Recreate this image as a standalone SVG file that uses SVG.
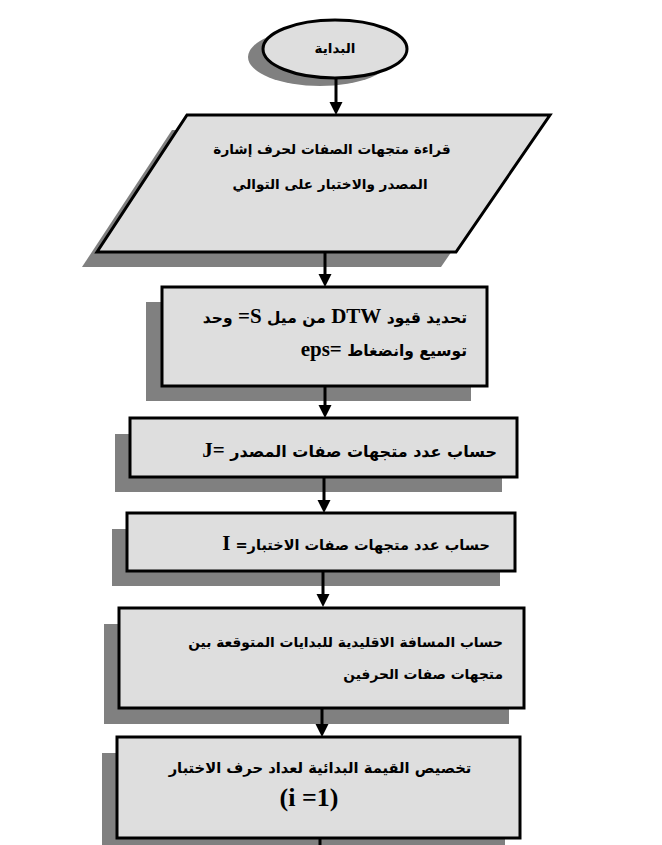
<svg xmlns="http://www.w3.org/2000/svg" width="662" height="845" viewBox="0 0 662 845">
<defs>
<style>
.sh{fill:#808080}
.bx{fill:#dedede;stroke:#000;stroke-width:3}
.t{font-family:"DejaVu Sans",sans-serif;font-weight:bold;font-size:14px;fill:#000}
.l{font-family:"Liberation Serif",serif;font-weight:bold;font-size:21px}
.c{stroke:#000;stroke-width:3;fill:none}
</style>
<marker id="ah" viewBox="0 0 10 10" refX="6.9" refY="5" markerUnits="userSpaceOnUse" markerWidth="13" markerHeight="14" orient="auto">
<path d="M0,0 L10,5 L0,10 z" fill="#000"/>
</marker>
</defs>
<rect width="662" height="845" fill="#fff"/>
<g id="start">
<ellipse class="sh" cx="320" cy="57" rx="72" ry="29"/>
<ellipse class="bx" cx="335" cy="49" rx="72" ry="29"/>
<text class="t" x="335" y="53" text-anchor="middle" direction="rtl" style="font-size:13.5px">البداية</text>
</g>
<g id="read">
<polygon class="sh" points="172,130 535,130 441,267 82,267"/>
<polygon class="bx" points="187,115 550,115 456,252 97,252"/>
<text class="t" x="332" y="154" text-anchor="middle" direction="rtl" style="font-size:13.6px">قراءة متجهات الصفات لحرف إشارة</text>
<text class="t" x="330" y="189" text-anchor="middle" direction="rtl" style="font-size:13.6px">المصدر والاختبار على التوالي</text>
</g>
<g id="dtw">
<rect class="sh" x="146" y="302" width="325" height="99"/>
<rect class="bx" x="162" y="287" width="325" height="99"/>
<text class="t" x="467" y="323" text-anchor="start" direction="rtl" style="font-size:15.5px">تحديد قيود <tspan class="l">DTW</tspan> من ميل <tspan class="l">S=</tspan>  وحد</text>
<text class="t" x="467" y="356" text-anchor="start" direction="rtl" style="font-size:15.5px">توسيع وانضغاط  <tspan class="l">=eps</tspan></text>
</g>
<g id="countJ">
<rect class="sh" x="115" y="434" width="387" height="58"/>
<rect class="bx" x="130" y="418" width="387" height="59"/>
<text class="t" x="497" y="457" text-anchor="start" direction="rtl" style="font-size:16px">حساب عدد متجهات صفات المصدر  <tspan class="l">=J</tspan></text>
</g>
<g id="countI">
<rect class="sh" x="112" y="529" width="388" height="57"/>
<rect class="bx" x="127" y="513" width="388" height="58"/>
<text class="t" x="490" y="550" text-anchor="start" direction="rtl" style="font-size:14.5px">حساب عدد متجهات صفات الاختبار= <tspan class="l">I</tspan></text>
</g>
<g id="dist">
<rect class="sh" x="104" y="624" width="405" height="100"/>
<rect class="bx" x="119" y="608" width="405" height="100"/>
<text class="t" x="503" y="647" text-anchor="start" direction="rtl" style="font-size:13.8px">حساب المسافة الاقليدية للبدايات المتوقعة بين</text>
<text class="t" x="503" y="679" text-anchor="start" direction="rtl" style="font-size:13.8px">متجهات صفات الحرفين</text>
</g>
<g id="init">
<rect class="sh" x="102" y="753" width="403" height="101"/>
<rect class="bx" x="117" y="737" width="403" height="101"/>
<text class="t" x="320" y="773" text-anchor="middle" direction="rtl" style="font-size:14.7px">تخصيص القيمة البدائية لعداد حرف الاختبار</text>
<text class="l" x="309" y="806" text-anchor="middle" style="font-size:26px">(i =1)</text>
</g>
<g id="connectors">
<line class="c" x1="336" y1="79" x2="336" y2="111" marker-end="url(#ah)"/>
<line class="c" x1="325" y1="252" x2="325" y2="283" marker-end="url(#ah)"/>
<line class="c" x1="325" y1="386" x2="325" y2="414" marker-end="url(#ah)"/>
<line class="c" x1="324" y1="477" x2="324" y2="509" marker-end="url(#ah)"/>
<line class="c" x1="323" y1="571" x2="323" y2="603" marker-end="url(#ah)"/>
<line class="c" x1="322" y1="708" x2="322" y2="733" marker-end="url(#ah)"/>
<line class="c" x1="320" y1="838" x2="320" y2="858" marker-end="url(#ah)"/>
</g>
</svg>
